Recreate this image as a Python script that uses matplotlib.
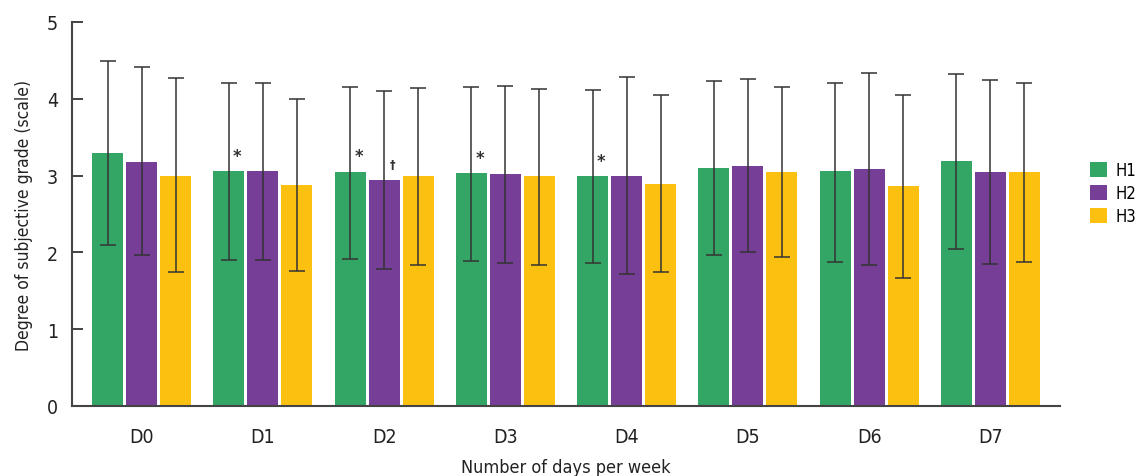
import numpy as np
import matplotlib
matplotlib.use('Agg')
import matplotlib.pyplot as plt

days = ['D0', 'D1', 'D2', 'D3', 'D4', 'D5', 'D6', 'D7']
groups = ['H1', 'H2', 'H3']

# bar heights (means)
h1 = [3.29, 3.06, 3.05, 3.03, 2.99, 3.10, 3.06, 3.19]
h2 = [3.18, 3.06, 2.94, 3.02, 2.99, 3.12, 3.09, 3.05]
h3 = [2.99, 2.88, 2.99, 2.99, 2.89, 3.05, 2.86, 3.05]

# error bar ends
h1_low = [2.09, 1.90, 1.92, 1.89, 1.86, 1.96, 1.88, 2.05]
h1_high = [4.49, 4.21, 4.16, 4.16, 4.12, 4.23, 4.21, 4.32]
h2_low = [1.97, 1.90, 1.79, 1.86, 1.72, 2.01, 1.84, 1.85]
h2_high = [4.41, 4.21, 4.10, 4.17, 4.28, 4.26, 4.34, 4.25]
h3_low = [1.74, 1.76, 1.84, 1.84, 1.74, 1.94, 1.66, 1.87]
h3_high = [4.27, 4.00, 4.14, 4.13, 4.05, 4.15, 4.05, 4.21]

# significance marks: (day index, group index, symbol)
marks = [(1, 0, '*'), (2, 0, '*'), (2, 1, '\u2020'), (3, 0, '*'), (4, 0, '*')]

colors = ['#33a564', '#763e97', '#fcc010']

plt.rcParams['font.family'] = ['DejaVu Sans']
plt.rcParams['font.stretch'] = 'condensed'

fig = plt.figure(figsize=(11.37, 4.77), dpi=100)
ax = fig.add_axes([0.0633, 0.1468, 0.869, 0.805])

x = np.arange(len(days))
step = 0.281
width = 0.256
means = [h1, h2, h3]
lows = [h1_low, h2_low, h3_low]
highs = [h1_high, h2_high, h3_high]

for i, g in enumerate(groups):
    m = np.array(means[i])
    lo = m - np.array(lows[i])
    hi = np.array(highs[i]) - m
    pos = x + (i - 1) * step
    ax.bar(pos, m, width, color=colors[i], label=g, zorder=2)
    ax.errorbar(pos, m, yerr=[lo, hi], fmt='none', ecolor='#333333',
                elinewidth=1.1, capsize=5.5, capthick=1.1, zorder=3)

for d, g, s in marks:
    xm = x[d] + (g - 1) * step + 0.07
    ym = means[g][d] + 0.2
    fs = 13 if s == '*' else 9
    ax.text(xm, ym, s, ha='center', va='center', fontsize=fs, color='#333333',
            fontweight='bold')

ax.set_xlim(-0.574, 7.574)
ax.set_ylim(0, 5)
ax.set_yticks([0, 1, 2, 3, 4, 5])
ax.set_xticks(x)
ax.set_xticklabels(days)
ax.tick_params(axis='x', length=0, pad=15, labelsize=14, colors='#222222')
ax.tick_params(axis='y', length=8, width=1.2, labelsize=14, direction='in', pad=10, colors='#222222')
for side in ['top', 'right']:
    ax.spines[side].set_visible(False)
for side in ['left', 'bottom']:
    ax.spines[side].set_linewidth(1.5)
    ax.spines[side].set_color('#444444')

ax.set_ylabel('Degree of subjective grade (scale)', fontsize=12.5, color='#222222', labelpad=10)
ax.set_xlabel('Number of days per week', fontsize=13, color='#222222', labelpad=9)

fig.legend(loc='center left', bbox_to_anchor=(0.959, 0.593), frameon=False,
           borderpad=0, borderaxespad=0,
           handlelength=1.0, handleheight=1.0, handletextpad=0.5, labelspacing=0.3,
           fontsize=12)

fig.savefig('out.png', dpi=100)
